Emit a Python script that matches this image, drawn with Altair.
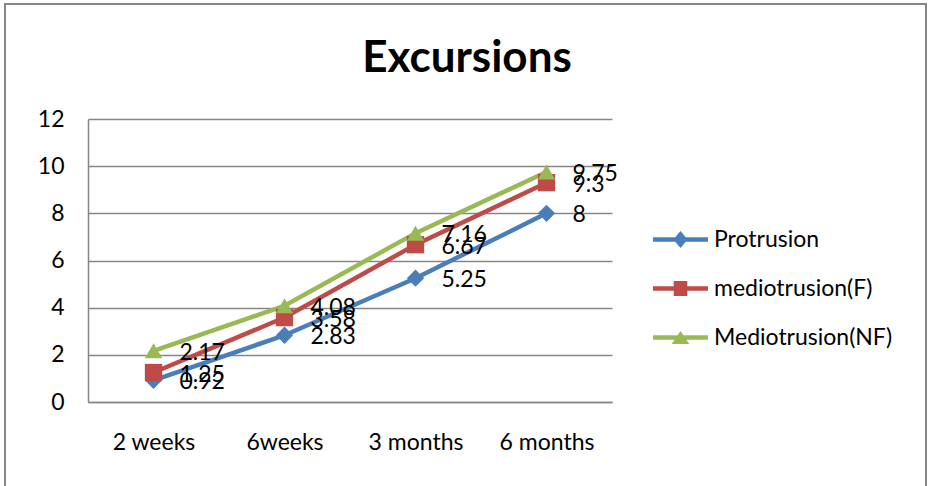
import altair as alt
import pandas as pd

# Chart values
categories = ["2 weeks", "6weeks", "3 months", "6 months"]
series_names = ["Protrusion", "mediotrusion(F)", "Mediotrusion(NF)"]
protrusion = [0.92, 2.83, 5.25, 8]
mediotrusion_f = [1.25, 3.58, 6.67, 9.3]
mediotrusion_nf = [2.17, 4.08, 7.16, 9.75]
y_ticks = [0, 2, 4, 6, 8, 10, 12]

# Styling
series_colors = ["#4A7EBB", "#BE4B48", "#98B954"]
marker_shapes = ["diamond", "square", "triangle-up"]
# legend keys: a short line segment with the series marker on top
legend_bar = "M-3.44,-0.28L3.44,-0.28L3.44,0.28L-3.44,0.28Z "
legend_paths = [
    legend_bar + "M0,-1.05L0.9,0L0,1.05L-0.9,0Z",
    legend_bar + "M-0.85,-0.95L0.85,-0.95L0.85,0.95L-0.85,0.95Z",
    legend_bar + "M0,-0.8L1.1,0.8L-1.1,0.8Z",
]
FONT = "Lato"
FS = 23
GRID = "#868686"

rows = []
for name, values in zip(series_names, [protrusion, mediotrusion_f, mediotrusion_nf]):
    for i, (cat, v) in enumerate(zip(categories, values)):
        rows.append({"period": cat, "idx": i, "series": name, "value": v, "label": f"{v:g}"})
df = pd.DataFrame(rows)

x_enc = alt.X(
    "period:N",
    sort=categories,
    scale=alt.Scale(type="point", domain=categories, padding=0.5),
    axis=alt.Axis(
        title=None, labelAngle=0, ticks=False, grid=False,
        domainColor=GRID, domainWidth=1.5,
        labelFont=FONT, labelFontSize=FS, labelColor="black", labelPadding=29,
    ),
)
y_enc = alt.Y(
    "value:Q",
    scale=alt.Scale(domain=[0, 12], nice=False),
    axis=alt.Axis(
        title=None, values=y_ticks, ticks=False, grid=True,
        gridColor=GRID, gridWidth=1.5, domainColor=GRID, domainWidth=1.5,
        labelFont=FONT, labelFontSize=FS, labelColor="black", labelPadding=24,
    ),
)
color_scale = alt.Scale(domain=series_names, range=series_colors)

base = alt.Chart(df).encode(x=x_enc, y=y_enc)

lines = base.mark_line(strokeWidth=4.5).encode(
    color=alt.Color("series:N", scale=color_scale, legend=None),
    order=alt.Order("idx:Q"),
)

points = base.mark_point(filled=True, size=300, opacity=1).encode(
    color=alt.Color("series:N", scale=color_scale, legend=None),
    shape=alt.Shape("series:N", scale=alt.Scale(domain=series_names, range=marker_shapes), legend=None),
)

labels = base.mark_text(
    align="left", baseline="middle", dx=26, dy=2,
    font=FONT, fontSize=FS, color="black",
).encode(text="label:N")

legend_def = alt.Legend(
    title=None, orient="none", legendX=581, legendY=109, padding=0,
    labelFont=FONT, labelFontSize=FS, labelColor="black", labelOffset=22,
    labelLimit=400, rowPadding=25, symbolSize=256, symbolStrokeWidth=0, symbolOpacity=1,
)
legend_layer = base.mark_point(filled=True).encode(
    color=alt.Color("series:N", scale=color_scale, legend=legend_def),
    shape=alt.Shape("series:N", scale=alt.Scale(domain=series_names, range=legend_paths), legend=legend_def),
).transform_filter("false")

# outer chart border
frame = alt.Chart(pd.DataFrame({"k": [0]})).mark_rect(
    fillOpacity=0, stroke=GRID, strokeWidth=2
).encode(x=alt.value(-83), x2=alt.value(838), y=alt.value(-115), y2=alt.value(380))

chart = (
    alt.layer(frame, lines, points, labels, legend_layer)
    .resolve_scale(color="independent", shape="independent")
    .properties(
        width=524,
        height=283,
        autosize=alt.AutoSizeParams(type="none"),
        padding={"left": 88, "top": 119, "right": 318, "bottom": 84},
        background="white",
        title=alt.Title(
            "Excursions", font=FONT, fontSize=44, fontWeight="bold",
            color="black", anchor="middle", frame="group", baseline="alphabetic",
            dx=117, offset=-113,
        ),
    )
    .configure_view(stroke=None)
)

chart.save("out.html", embed_options={"renderer": "svg", "actions": False})
